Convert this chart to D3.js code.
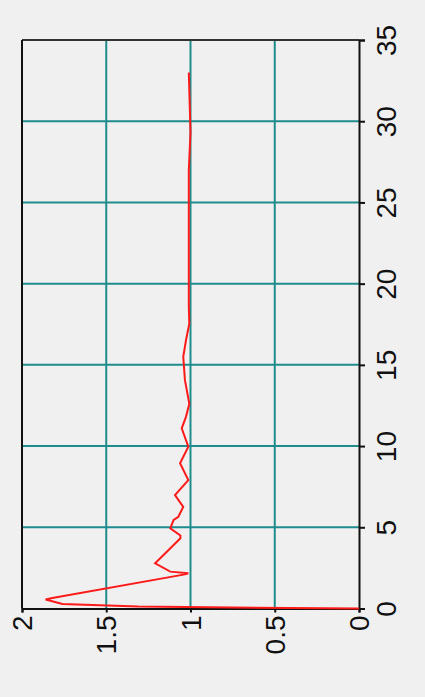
<!DOCTYPE html>
<html><head><meta charset="utf-8">
<script src="https://cdn.jsdelivr.net/npm/d3@7"></script>
<style>html,body{margin:0;padding:0;background:#f0f0f0;overflow:hidden}</style>
</head><body>
<svg id="c" width="425" height="697"></svg>
<script>
const xTicks = [0,5,10,15,20,25,30,35];
const yTicks = [0,0.5,1,1.5,2];
const xVals = [0,0.03,0.12,0.28,0.55,0.65,2.1,2.17,2.27,2.78,3.29,4.32,4.5,4.93,5.45,5.65,6.26,6.98,7.9,8.94,9.96,11.09,11.8,12.6,14.06,15.5,16.5,17.55,18.6,27,29.3,33];
const yVals = [0,0.41,1.31,1.76,1.86,1.82,1.033,1.013,1.12,1.21,1.16,1.06,1.06,1.12,1.10,1.072,1.043,1.092,1.013,1.062,1.013,1.052,1.027,1.007,1.033,1.043,1.027,1.007,1.01,1.01,1.0,1.01];

const svg = d3.select("#c");
const L = 22, R = 359, T = 40, B = 608.5;
// rotated chart: data x runs upward along the right side, data y runs leftward along the bottom
const xs = d3.scaleLinear().domain([0,35]).range([B, T]);
const ys = d3.scaleLinear().domain([0,2]).range([R, L]);

// grid
const g = svg.append("g");
g.selectAll(".gx").data(xTicks.filter(t=>t>0&&t<35)).join("line")
  .attr("x1",L).attr("x2",R).attr("y1",d=>xs(d)).attr("y2",d=>xs(d))
  .attr("stroke","#1f8c8c").attr("stroke-width",2);
g.selectAll(".gy").data(yTicks.filter(t=>t>0&&t<2)).join("line")
  .attr("y1",T).attr("y2",B).attr("x1",d=>ys(d)).attr("x2",d=>ys(d))
  .attr("stroke","#1f8c8c").attr("stroke-width",2);

// frame top/left
svg.append("line").attr("x1",L).attr("x2",R).attr("y1",T).attr("y2",T).attr("stroke","#333").attr("stroke-width",2);
svg.append("line").attr("x1",L).attr("x2",L).attr("y1",T).attr("y2",B).attr("stroke","#111").attr("stroke-width",2);

// axes
const axR = svg.append("g").attr("transform",`translate(${R},0)`)
  .call(d3.axisRight(xs).tickValues(xTicks).tickSize(6).tickFormat(d3.format("d")));
const axB = svg.append("g").attr("transform",`translate(0,${B})`)
  .call(d3.axisBottom(ys).tickValues(yTicks).tickSize(4).tickFormat(d=>String(d)));
[axR,axB].forEach(a=>{
  a.select(".domain").attr("stroke","#111").attr("stroke-width",2);
  a.selectAll(".tick line").attr("stroke","#111").attr("stroke-width",2);
  a.selectAll("text").attr("font-family","Liberation Sans, Arial, sans-serif").attr("font-size",28).attr("fill","#111");
});
axR.selectAll(".tick text").attr("x",null).attr("dy",null)
  .attr("transform","translate(27,0) rotate(-90)")
  .attr("text-anchor","middle").attr("dominant-baseline","central");
axB.selectAll(".tick text").attr("y",null).attr("dy",null)
  .attr("transform","translate(0,7) rotate(-90)")
  .attr("text-anchor","end").attr("dominant-baseline","central");

// line
const data = xVals.map((x,i)=>({x, y:yVals[i]}));
svg.append("path").datum(data)
  .attr("fill","none").attr("stroke","#ff1a1a").attr("stroke-width",2)
  .attr("d", d3.line().x(d=>ys(d.y)).y(d=>xs(d.x)));
</script>
</body></html>
